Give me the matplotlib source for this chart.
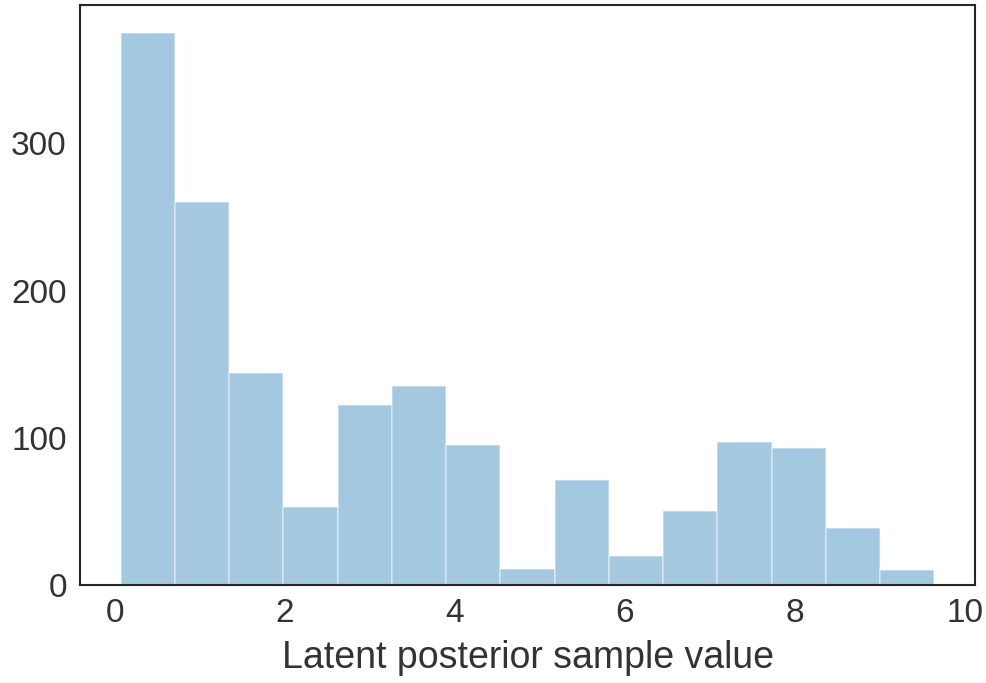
import matplotlib
matplotlib.use("Agg")
import matplotlib.pyplot as plt
import numpy as np
import seaborn as sns

# histogram: 15 equal bins
bin_start = 0.067
bin_stop = 9.64
counts = [375, 260, 144, 53, 122, 135, 95, 11, 71, 20, 50, 97, 93, 39, 10]

sns.set_style("white")
plt.rcParams["font.family"] = ["Liberation Sans", "DejaVu Sans"]

edges = np.linspace(bin_start, bin_stop, len(counts) + 1)
centers = (edges[:-1] + edges[1:]) / 2

fig = plt.figure(figsize=(9.86, 6.83), dpi=100)
ax = fig.add_axes([0.0811, 0.1435, 0.9078, 0.8485])
ax.hist(centers, bins=edges, weights=counts, color="#1f77b4", alpha=0.4,
        edgecolor="white", linewidth=1.2)

ax.set_xticks([0, 2, 4, 6, 8, 10])
ax.set_yticks([0, 100, 200, 300])
ax.tick_params(labelsize=24, colors="#333333", pad=6)
ax.set_xlabel("Latent posterior sample value", fontsize=27, color="#333333", labelpad=8)
for s in ax.spines.values():
    s.set_color("#262626")
    s.set_linewidth(1.5)

fig.savefig("out.png", dpi=100)
